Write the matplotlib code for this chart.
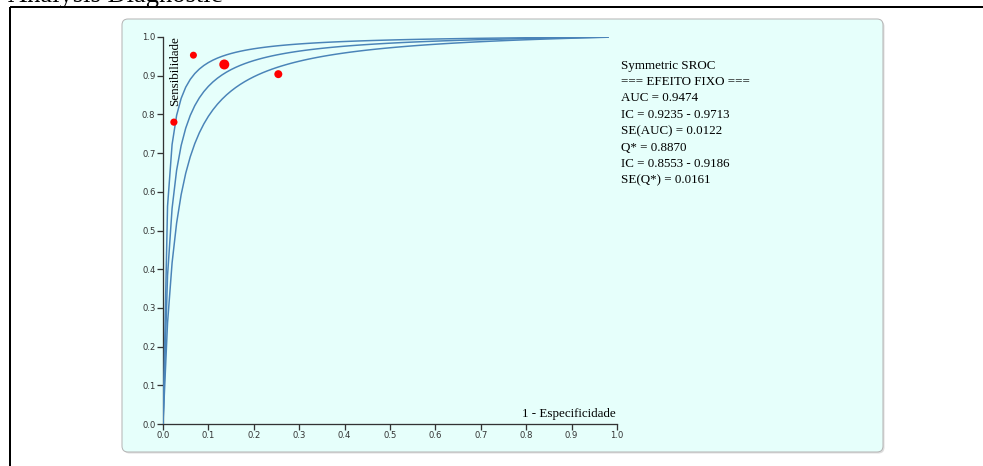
import numpy as np
import matplotlib
matplotlib.use("Agg")
import matplotlib.pyplot as plt
from matplotlib.patches import FancyBboxPatch, Rectangle

# ---- data ----
q_star = [0.9186, 0.8870, 0.8553]          # Q* upper, estimate, lower (symmetric SROC)
study_fpr = [0.067, 0.135, 0.254, 0.024]
study_sens = [0.953, 0.929, 0.904, 0.780]
study_radius_px = [3.5, 5.0, 4.0, 3.6]
x_ticks = [0.0, 0.1, 0.2, 0.3, 0.4, 0.5, 0.6, 0.7, 0.8, 0.9, 1.0]
y_ticks = [0.0, 0.1, 0.2, 0.3, 0.4, 0.5, 0.6, 0.7, 0.8, 0.9, 1.0]
stats_lines = [
    "Symmetric SROC",
    "=== EFEITO FIXO ===",
    "AUC = 0.9474",
    "IC = 0.9235 - 0.9713",
    "SE(AUC) = 0.0122",
    "Q* = 0.8870",
    "IC = 0.8553 - 0.9186",
    "SE(Q*) = 0.0161",
]
title = "Analysis Diagnostic"
x_label = "1 - Especificidade"
y_label = "Sensibilidade"

W, H, DPI = 983, 466, 100
PX = 72.0 / DPI  # points per pixel

fig = plt.figure(figsize=(W / DPI, H / DPI), dpi=DPI)
fig.patch.set_facecolor("white")

# background layer in pixel coordinates
bg = fig.add_axes([0, 0, 1, 1], zorder=0)
bg.set_xlim(0, W)
bg.set_ylim(H, 0)
bg.axis("off")

serif = ["Liberation Serif", "DejaVu Serif"]

# outer black box
bg.add_patch(Rectangle((10, 7), 1000, 500, fill=False, edgecolor="black",
                       linewidth=2 * PX))
# title (cut off at top, as in the reference)
bg.text(8, 1.5, title, fontsize=26.5 * PX, family=serif, ha="left",
        va="baseline", color="black")

# panel with shadow
bg.add_patch(FancyBboxPatch((123.5, 20.5), 761, 433,
                            boxstyle="round,pad=0,rounding_size=6",
                            facecolor="#c8c8c8", edgecolor="none", alpha=0.6))
bg.add_patch(FancyBboxPatch((122, 19), 761, 433,
                            boxstyle="round,pad=0,rounding_size=6",
                            facecolor="#e6fffb", edgecolor="#b5b5b5",
                            linewidth=1 * PX))

# main axes
L, R, T, B = 163, 617, 37, 424
ax = fig.add_axes([L / W, (H - B) / H, (R - L) / W, (B - T) / H], zorder=2)
ax.patch.set_alpha(0)
ax.set_xlim(0, 1)
ax.set_ylim(0, 1)

fpr = np.arange(0, 0.9801, 0.01)
for q in q_star:
    dor = (q / (1 - q)) ** 2
    with np.errstate(divide="ignore"):
        sens = np.where(fpr > 0, 1.0 / (1.0 + (1 - fpr) / (np.maximum(fpr, 1e-12) * dor)), 0.0)
    ax.plot(fpr, sens, color="#4a84b8", linewidth=1.5 * PX, zorder=3,
            solid_joinstyle="round")

sizes = [(2 * r * PX) ** 2 for r in study_radius_px]
ax.scatter(study_fpr, study_sens, s=sizes, color="red", edgecolor="none",
           zorder=4)

for sp in ["top", "right"]:
    ax.spines[sp].set_visible(False)
for sp in ["left", "bottom"]:
    ax.spines[sp].set_color("#333333")
    ax.spines[sp].set_linewidth(1.3 * PX)

ax.set_xticks(x_ticks)
ax.set_yticks(y_ticks)
ax.set_xticklabels([f"{v:.1f}" for v in x_ticks])
ax.set_yticklabels([f"{v:.1f}" for v in y_ticks])
ax.tick_params(axis="both", length=6 * PX, width=1.3 * PX, color="#333333",
               labelsize=8.5 * PX, labelcolor="#333333", pad=1.5 * PX)
for lab in ax.get_xticklabels() + ax.get_yticklabels():
    lab.set_family(["DejaVu Sans"])

# axis labels inside plot
bg.text(175, 36, y_label, rotation=90, ha="center", va="top",
        fontsize=13 * PX, family=serif, color="black", zorder=5)
bg.text(616, 417.5, x_label, ha="right", va="baseline",
        fontsize=13 * PX, family=serif, color="black", zorder=5)

# statistics text
for i, line in enumerate(stats_lines):
    bg.text(621, 65.5 + i * 16.45, line, ha="left", va="center",
            fontsize=13 * PX, family=serif, color="black")

fig.savefig("out.png", dpi=DPI)
